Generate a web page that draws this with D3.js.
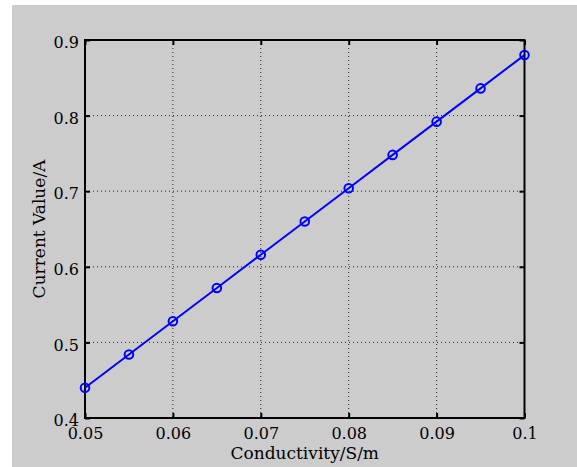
<!DOCTYPE html>
<html><head><meta charset="utf-8">
<script src="https://cdn.jsdelivr.net/npm/d3@7"></script>
<style>body{margin:0;background:#fff;}svg{display:block;}</style>
</head><body>
<script>
const conductivity = [0.05,0.055,0.06,0.065,0.07,0.075,0.08,0.085,0.09,0.095,0.1];
const current = [0.440,0.484,0.528,0.572,0.616,0.660,0.704,0.748,0.792,0.836,0.880];
const xTicks = [0.05,0.06,0.07,0.08,0.09,0.1];
const xTickLabels = ["0.05","0.06","0.07","0.08","0.09","0.1"];
const yTicks = [0.4,0.5,0.6,0.7,0.8,0.9];
const yTickLabels = ["0.4","0.5","0.6","0.7","0.8","0.9"];
const xLabel = "Conductivity/S/m";
const yLabel = "Current Value/A";

const W=577,H=467;
const L=85,R=524.5,T=40,B=418;
const font = "'DejaVu Serif', serif";
const svg = d3.select("body").append("svg").attr("width",W).attr("height",H);
svg.append("rect").attr("x",12).attr("y",5).attr("width",W-12).attr("height",H-5).attr("fill","#cccccc");

const x = d3.scaleLinear().domain([0.05,0.1]).range([L,R]);
const y = d3.scaleLinear().domain([0.4,0.9]).range([B,T]);

// grid
const g = svg.append("g");
g.selectAll(".gx").data(xTicks.slice(1,-1)).enter().append("line")
  .attr("x1",d=>x(d)).attr("x2",d=>x(d)).attr("y1",T).attr("y2",B)
  .attr("stroke","#222").attr("stroke-width",1).attr("stroke-dasharray","1,3");
g.selectAll(".gy").data(yTicks.slice(1,-1)).enter().append("line")
  .attr("y1",d=>y(d)).attr("y2",d=>y(d)).attr("x1",L).attr("x2",R)
  .attr("stroke","#222").attr("stroke-width",1).attr("stroke-dasharray","1,3");

// axes with inward ticks
function styleAxis(sel){
  sel.select(".domain").remove();
  sel.selectAll(".tick line").attr("stroke","#000").attr("stroke-width",2);
  sel.selectAll(".tick text").attr("fill","#000").style("font-family",font).style("font-size","16px");
}
const xb = svg.append("g").attr("transform",`translate(0,${B})`)
  .call(d3.axisBottom(x).tickValues(xTicks).tickFormat((d,i)=>xTickLabels[i]).tickSizeInner(-5).tickPadding(10));
styleAxis(xb);
const xt = svg.append("g").attr("transform",`translate(0,${T})`)
  .call(d3.axisTop(x).tickValues(xTicks).tickFormat("").tickSizeInner(-5));
styleAxis(xt);
const yl = svg.append("g").attr("transform",`translate(${L},0)`)
  .call(d3.axisLeft(y).tickValues(yTicks).tickFormat((d,i)=>yTickLabels[i]).tickSizeInner(-5).tickPadding(6));
styleAxis(yl);
const yr = svg.append("g").attr("transform",`translate(${R},0)`)
  .call(d3.axisRight(y).tickValues(yTicks).tickFormat("").tickSizeInner(-5));
styleAxis(yr);
yl.selectAll(".tick text").attr("dy","0.48em");

// box
svg.append("rect").attr("x",L).attr("y",T).attr("width",R-L).attr("height",B-T)
  .attr("fill","none").attr("stroke","#000").attr("stroke-width",2);

// line + markers
const data = conductivity.map((c,i)=>({c,v:current[i]}));
svg.append("path").datum(data)
  .attr("d",d3.line().x(d=>x(d.c)).y(d=>y(d.v)))
  .attr("fill","none").attr("stroke","#0000ff").attr("stroke-width",2);
svg.selectAll(".m").data(data).enter().append("circle")
  .attr("cx",d=>x(d.c)).attr("cy",d=>y(d.v)).attr("r",4.3)
  .attr("fill","none").attr("stroke","#0000ff").attr("stroke-width",2);

// labels
svg.append("text").attr("x",(L+R)/2).attr("y",459).attr("text-anchor","middle")
  .style("font-family",font).style("font-size","17px").text(xLabel);
svg.append("text").attr("transform",`translate(45,${(T+B)/2}) rotate(-90)`).attr("text-anchor","middle")
  .style("font-family",font).style("font-size","17px").text(yLabel);
</script>
</body></html>
